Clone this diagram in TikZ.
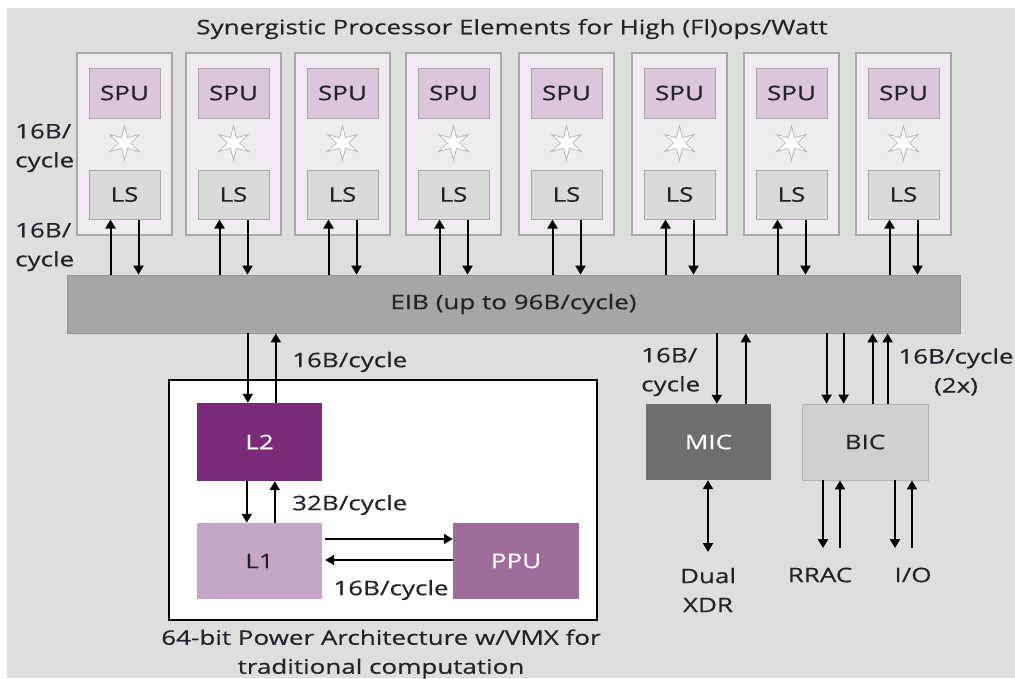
\documentclass[tikz,border=0pt]{standalone}
\usepackage{fontspec}
\setmainfont{Open Sans}[FakeStretch=1.3,FakeBold=0.4]
\usetikzlibrary{arrows.meta,calc,shapes.geometric}
\definecolor{bgc}{HTML}{DEDEDE}
\definecolor{spefill}{HTML}{F2EAF2}
\definecolor{speline}{HTML}{A8A8A8}
\definecolor{spufill}{HTML}{DCC6DC}
\definecolor{lsfill}{HTML}{DADADA}
\definecolor{eibfill}{HTML}{A6A6A6}
\definecolor{ltwo}{HTML}{7A2A76}
\definecolor{lone}{HTML}{C6A6C6}
\definecolor{ppuc}{HTML}{A06C9C}
\definecolor{micc}{HTML}{6E6E6E}
\definecolor{bicc}{HTML}{D0D0D0}
\definecolor{txt}{HTML}{22222E}
\tikzset{
  base/.style={font=\fontsize{20}{29}\selectfont, text=txt},
  spebox/.style={draw=speline, fill=spefill, line width=1.2pt, minimum width=95pt, minimum height=182pt, inner sep=0pt},
  spubox/.style={base, draw=speline, fill=spufill, line width=1pt, minimum width=71pt, minimum height=50pt, inner sep=0pt},
  lsbox/.style={base, draw=speline, fill=lsfill, line width=1pt, minimum width=71pt, minimum height=49pt, inner sep=0pt},
  spark/.style={star, star points=6, star point ratio=2.8, minimum size=34pt, inner sep=0pt, draw=gray!55, fill=white, line width=0.8pt},
  blk/.style={base, minimum height=76pt, inner sep=0pt},
  lbl/.style={base, inner sep=0pt, align=center},
  arr/.style={line width=2pt, draw=black, -{Triangle[length=9pt,width=10pt]}},
  darr/.style={line width=2pt, draw=black, {Triangle[length=9pt,width=10pt]}-{Triangle[length=9pt,width=10pt]}},
}
\begin{document}
\begin{tikzpicture}[x=1pt,y=-1pt]
\useasboundingbox (0,0) rectangle (1015,678);
\fill[bgc] (7,8) rectangle (1015,678);

\node[lbl] (title) at (512,29) {Synergistic Processor Elements for High (Fl)ops/Watt};

% EIB
\node[base, fill=eibfill, draw=eibfill!90!black, line width=0.8pt, minimum width=893pt, minimum height=58pt, inner sep=0pt] (eib) at (513.5,304) {EIB (up to 96B/cycle)};

% SPEs
\foreach \i/\xl in {1/77,2/186,3/295,4/406,5/519,6/632,7/744,8/856}{
  \node[spebox] (spe\i) at (\xl+47.5,144) {};
  \node[spubox] (spu\i) at (\xl+47.5,93) {SPU};
  \node[spark] (st\i) at (\xl+47.5,143) {};
  \node[lsbox] (ls\i) at (\xl+47.5,194.5) {LS};
  \coordinate (lu\i) at ($(ls\i.south)+(-14,0)$);
  \coordinate (ld\i) at ($(ls\i.south)+(14,0)$);
  \draw[arr] (eib.north -| lu\i) -- (lu\i);
  \draw[arr] (ld\i) -- (eib.north -| ld\i);
}

\node[lbl, align=left, anchor=west] (lab1) at (15,148) {16B/\\cycle};
\node[lbl, align=left, anchor=west] (lab2) at (15,247) {16B/\\cycle};

% PPE
\node[draw=black, fill=white, line width=2pt, minimum width=428pt, minimum height=240pt, inner sep=0pt] (ppe) at (383,500) {};
\node[blk, fill=ltwo, text=white, minimum width=125pt, minimum height=78pt] (l2) at (259.5,442) {L2};
\node[blk, fill=lone, minimum width=125pt] (l1) at (259.5,561) {L1};
\node[blk, fill=ppuc, text=white, minimum width=126pt] (ppu) at (516,561) {PPU};

\coordinate (l2d) at ($(l2.north west)+(51,0)$);
\coordinate (l2u) at ($(l2.north west)+(79,0)$);
\draw[arr] (eib.south -| l2d) -- (l2d);
\draw[arr] (l2u) -- (eib.south -| l2u);
\node[lbl, anchor=west] (lab3) at (292,362) {16B/cycle};

\coordinate (l1d) at ($(l1.north west)+(50,0)$);
\coordinate (l1u) at ($(l1.north west)+(78,0)$);
\draw[arr] (l2.south -| l1d) -- (l1d);
\draw[arr] (l1u) -- (l2.south -| l1u);
\node[lbl, anchor=west] (lab4) at (292,505) {32B/cycle};

\coordinate (pa) at ($(ppu.west)+(0,-22)$);
\coordinate (pb) at ($(ppu.west)+(0,-1)$);
\draw[arr, shorten <=3pt] (l1.east |- pa) -- (pa);
\draw[arr, shorten >=3pt] (pb) -- (l1.east |- pb);
\node[lbl] (lab5) at (391,590) {16B/cycle};

\node[lbl] (cap) at (381,654) {64-bit Power Architecture w/VMX for\\traditional computation};

% MIC / BIC
\node[blk, fill=micc, text=white, minimum width=125pt] (mic) at (708.5,442) {MIC};
\node[blk, fill=bicc, draw=bicc!85!black, line width=0.8pt, minimum width=126pt] (bic) at (865,442) {BIC};

\coordinate (md) at ($(mic.north west)+(71,0)$);
\coordinate (mu) at ($(mic.north west)+(100,0)$);
\draw[arr] (eib.south -| md) -- (md);
\draw[arr] (mu) -- (eib.south -| mu);
\node[lbl, align=left, anchor=west] (lab6) at (641,372) {16B/\\cycle};

\foreach \n/\dx in {a/25,b/42}{
  \coordinate (bd\n) at ($(bic.north west)+(\dx,0)$);
  \draw[arr] (eib.south -| bd\n) -- (bd\n);
}
\foreach \n/\dx in {a/71,b/86}{
  \coordinate (bu\n) at ($(bic.north west)+(\dx,0)$);
  \draw[arr] (bu\n) -- (eib.south -| bu\n);
}
\node[lbl] (lab7) at (956,372) {16B/cycle\\(2x)};

\coordinate (xdr) at (708,552);
\draw[darr] (mic.south -| xdr) -- (xdr);
\node[lbl] (dual) at (708,590) {Dual\\XDR};

\coordinate (rr1) at (823,548);
\coordinate (rr2) at (840,548);
\coordinate (io1) at (895,548);
\coordinate (io2) at (912,548);
\draw[arr] (bic.south -| rr1) -- (rr1);
\draw[arr] (rr2) -- (bic.south -| rr2);
\draw[arr] (bic.south -| io1) -- (io1);
\draw[arr] (io2) -- (bic.south -| io2);
\node[lbl] (rrac) at (820,575) {RRAC};
\node[lbl] (io) at (913,575) {I/O};
\end{tikzpicture}
\end{document}
